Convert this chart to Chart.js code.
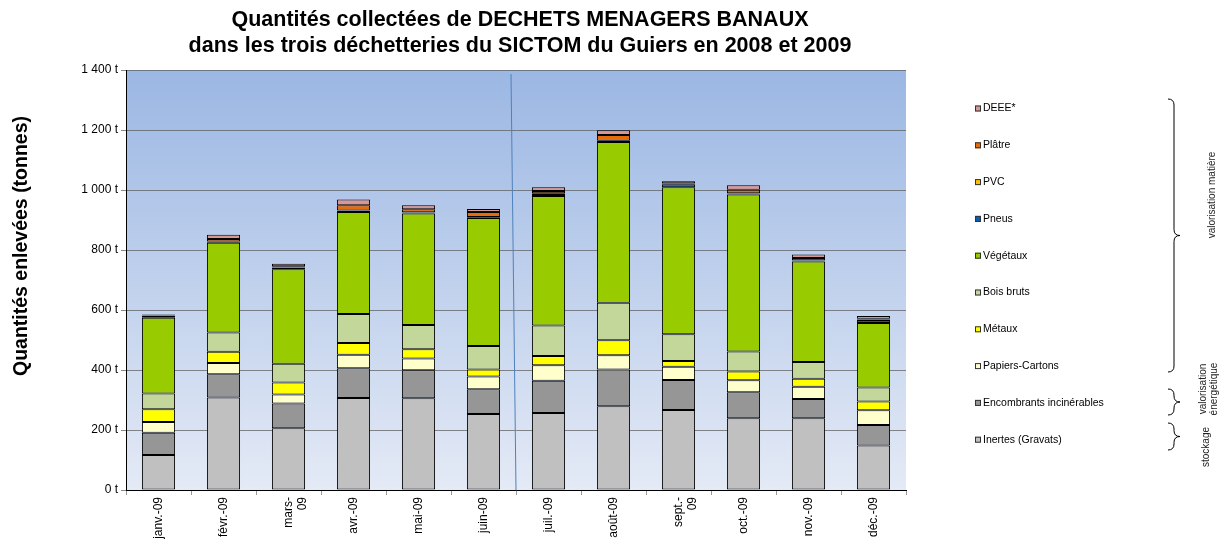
<!DOCTYPE html>
<html>
<head>
<meta charset="utf-8">
<script src="https://cdn.jsdelivr.net/npm/chart.js@4.4.0/dist/chart.umd.min.js"></script>
<style>
  html, body { margin: 0; padding: 0; background: #fff; }
  #wrap { width: 1222px; height: 548px; position: relative; }
</style>
</head>
<body>
<div id="wrap"><canvas id="chart" width="1222" height="548"></canvas></div>
<script>
// ===== Data =====
const categories = ["janv.-09", "févr.-09", ["mars-", "09"], "avr.-09", "mai-09", "juin-09",
  "juil.-09", "août-09", ["sept.-", "09"], "oct.-09", "nov.-09", "déc.-09"];

const inertes     = [117, 308, 206, 307, 306, 253, 257, 279, 267, 239, 239, 148];
const encombrants = [74, 78, 82, 99, 93, 83, 107, 123, 100, 87, 64, 69];
const papiers     = [36, 37, 30, 45, 39, 42, 52, 47, 44, 40, 41, 49];
const metaux      = [42, 38, 40, 39, 31, 24, 31, 50, 19, 29, 27, 29];
const bois        = [53, 64, 63, 97, 81, 78, 101, 125, 89, 67, 56, 47];
const vegetaux    = [252, 299, 315, 340, 372, 427, 432, 536, 490, 523, 335, 215];
const pneus       = [6, 3, 5, 4, 3, 2, 7, 3, 10, 3, 3, 10];
const pvc         = [1, 1, 1, 1, 1, 1, 2, 1, 1, 1, 1, 1];
const platre      = [1, 9, 4, 17, 10, 17, 8, 19, 2, 12, 7, 3];
const deee        = [3, 14, 8, 19, 13, 10, 12, 16, 7, 15, 12, 9];

const seriesNames = ["Inertes (Gravats)", "Encombrants incinérables", "Papiers-Cartons", "Métaux",
  "Bois bruts", "Végétaux", "Pneus", "PVC", "Plâtre", "DEEE*"];
const seriesValues = [inertes, encombrants, papiers, metaux, bois, vegetaux, pneus, pvc, platre, deee];
const seriesColors = ["#C0C0C0", "#969696", "#FFFFCC", "#FFFF00", "#C4D79B", "#99CC00",
  "#0060C0", "#FFC000", "#E46C0A", "#D99694"];

const yTicks = [0, 200, 400, 600, 800, 1000, 1200, 1400];
const titleLines = ["Quantités collectées de DECHETS MENAGERS BANAUX",
  "dans les trois déchetteries du SICTOM du Guiers en 2008 et 2009"];
const yTitle = "Quantités enlevées (tonnes)";

const FONT = "'Liberation Sans', Arial, sans-serif";

function fmtTonnes(v) {
  if (v >= 1000) return Math.floor(v / 1000) + " " + String(v % 1000).padStart(3, "0") + " t";
  return v + " t";
}

// ===== Plugins =====
const plotBackground = {
  id: "plotBackground",
  beforeDraw(chart) {
    const { ctx, chartArea: a } = chart;
    const g = ctx.createLinearGradient(0, a.top, 0, a.bottom);
    g.addColorStop(0, "#9BB7E3");
    g.addColorStop(1, "#E4EAF6");
    ctx.save();
    ctx.fillStyle = g;
    ctx.fillRect(a.left, a.top, a.right - a.left, a.bottom - a.top);
    ctx.restore();
  }
};

// thin blue separator between juin and juil
const separator = {
  id: "separator",
  beforeDatasetsDraw(chart) {
    const { ctx, chartArea: a, scales } = chart;
    const x = scales.x.getPixelForValue(5.5);
    ctx.save();
    ctx.strokeStyle = "#4F81BD";
    ctx.lineWidth = 1;
    ctx.beginPath();
    ctx.moveTo(x - 5, a.top + 4);
    ctx.lineTo(x, a.bottom);
    ctx.stroke();
    ctx.restore();
  }
};

function drawBrace(ctx, x, y1, y2, w) {
  const ym = (y1 + y2) / 2;
  const r = Math.min(6, (y2 - y1) / 4);
  ctx.beginPath();
  ctx.moveTo(x - w / 2, y1);
  ctx.quadraticCurveTo(x, y1, x, y1 + r);
  ctx.lineTo(x, ym - r);
  ctx.quadraticCurveTo(x, ym, x + w / 2, ym);
  ctx.quadraticCurveTo(x, ym, x, ym + r);
  ctx.lineTo(x, y2 - r);
  ctx.quadraticCurveTo(x, y2, x - w / 2, y2);
  ctx.stroke();
}

function rotText(ctx, lines, x, y, lh) {
  ctx.save();
  ctx.translate(x, y);
  ctx.rotate(-Math.PI / 2);
  ctx.textAlign = "center";
  ctx.textBaseline = "middle";
  lines.forEach((t, i) => ctx.fillText(t, 0, (i - (lines.length - 1) / 2) * lh));
  ctx.restore();
}

const extras = {
  id: "extras",
  afterDraw(chart) {
    const { ctx, chartArea: a } = chart;
    ctx.save();
    // title
    ctx.fillStyle = "#000";
    ctx.font = "bold 21.5px " + FONT;
    ctx.textAlign = "center";
    ctx.textBaseline = "middle";
    const cx = (a.left + a.right) / 2 + 4;
    titleLines.forEach((t, i) => ctx.fillText(t, cx, 20 + i * 26));

    // y axis title
    ctx.font = "bold 19.5px " + FONT;
    rotText(ctx, [yTitle], 22, 246, 0);

    // legend, reversed
    ctx.font = "10.5px " + FONT;
    ctx.textAlign = "left";
    ctx.textBaseline = "middle";
    const ds = chart.data.datasets;
    for (let i = ds.length - 1, k = 0; i >= 0; i--, k++) {
      const y = 108.5 + k * 36.8;
      ctx.fillStyle = ds[i].backgroundColor;
      ctx.fillRect(975, y - 3, 6, 6);
      ctx.strokeStyle = "#333";
      ctx.lineWidth = 1;
      ctx.strokeRect(975.5, y - 2.5, 5, 5);
      ctx.fillStyle = "#000";
      ctx.fillText(ds[i].label, 983, y);
    }

    // braces and groups
    ctx.strokeStyle = "#000";
    ctx.lineWidth = 1;
    drawBrace(ctx, 1174, 99, 372, 12);
    drawBrace(ctx, 1174, 389, 415, 12);
    drawBrace(ctx, 1174, 423, 450, 12);
    ctx.fillStyle = "#222";
    ctx.font = "10px " + FONT;
    rotText(ctx, ["valorisation matière"], 1212, 195, 0);
    rotText(ctx, ["valorisation", "énergétique"], 1209, 389, 11);
    rotText(ctx, ["stockage"], 1206, 447, 0);
    ctx.restore();
  }
};

// ===== Chart =====
document.addEventListener("DOMContentLoaded", () => {
  const ctx = document.getElementById("chart").getContext("2d");
  new Chart(ctx, {
    type: "bar",
    data: {
      labels: categories,
      datasets: seriesValues.map((vals, i) => ({
        label: seriesNames[i],
        data: vals,
        backgroundColor: seriesColors[i],
        borderColor: "#000",
        borderWidth: 1,
        borderSkipped: false,
        categoryPercentage: 1,
        barPercentage: 0.51
      }))
    },
    options: {
      responsive: false,
      animation: false,
      layout: { padding: { top: 70, right: 316, left: 0, bottom: 0 } },
      plugins: {
        legend: { display: false },
        title: { display: false },
        tooltip: { enabled: false }
      },
      scales: {
        x: {
          stacked: true,
          offset: true,
          afterFit: (s) => { s.height = 58; },
          grid: { display: true, drawOnChartArea: false, offset: true, tickLength: 5, color: "#999" },
          border: { color: "#000", width: 1 },
          ticks: {
            maxRotation: 90, minRotation: 90, padding: 2,
            color: "#000", font: { family: FONT, size: 12 }
          }
        },
        y: {
          stacked: true,
          min: 0, max: 1400,
          afterFit: (s) => { s.width = 126; },
          afterBuildTicks: (s) => { s.ticks = yTicks.map(v => ({ value: v })); },
          grid: { color: "rgba(90,90,90,0.7)", tickLength: 5, tickColor: "#888" },
          border: { color: "#000", width: 1 },
          ticks: {
            padding: 3, color: "#000",
            font: { family: FONT, size: 12 },
            callback: (v) => fmtTonnes(v)
          }
        }
      }
    },
    plugins: [plotBackground, separator, extras]
  });
});
</script>
</body>
</html>
